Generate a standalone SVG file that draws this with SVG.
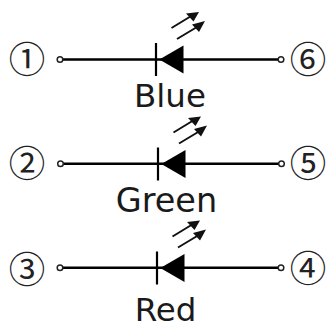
<svg xmlns="http://www.w3.org/2000/svg" width="328" height="325" viewBox="0 0 328 325">
<style>
.num{font-family:"Noto Sans CJK JP","DejaVu Sans",sans-serif;font-size:36.500px;fill:#222;text-anchor:middle}
.lbl{font-family:"DejaVu Sans",sans-serif;font-size:32.5px;fill:#1a1a1a;text-anchor:middle}
.wire{stroke:#000;stroke-width:2.4;fill:none}
.bar{stroke:#000;stroke-width:2.2;fill:none}
.ray{stroke:#111;stroke-width:2;fill:none}
.term{fill:#fff;stroke:#222;stroke-width:1.5}
</style>
<defs>
<g id="led">
<path class="bar" d="M0-16.500V16.500"/>
<path d="M3.300 0L27.500-14V14Z" fill="#000"/>
<path class="ray" d="M15.500-31.500L36-44M21-20.500L41-32.500"/>
<path d="M43-47.500L30-46L37.500-38Z M49-38.500L36-35L43-27.500Z" fill="#111"/>
</g>
</defs>
<rect width="328" height="325" fill="#fff"/>
<g id="connectors">
<path class="wire" d="M60 59.500H281M60.500 163.700H281.500M60 267.700H281"/>
</g>
<g id="led-blue"><use href="#led" x="156" y="59.500"/><circle class="term" cx="60" cy="59.500" r="2.800"/><circle class="term" cx="281" cy="59.500" r="2.800"/><text class="lbl" x="170" y="107">Blue</text></g>
<g id="led-green"><use href="#led" x="158" y="164"/><circle class="term" cx="60.500" cy="163.700" r="2.800"/><circle class="term" cx="281.500" cy="163.700" r="2.800"/><text class="lbl" x="166.500" y="212" style="font-size:33.500px">Green</text></g>
<g id="led-red"><use href="#led" x="157" y="268"/><circle class="term" cx="60" cy="267.700" r="2.800"/><circle class="term" cx="281" cy="267.700" r="2.800"/><text class="lbl" x="165.500" y="320.500">Red</text></g>
<g id="pin-1"><text class="num" x="27" y="73">①</text></g>
<g id="pin-2"><text class="num" x="27" y="177">②</text></g>
<g id="pin-3"><text class="num" x="27" y="283">③</text></g>
<g id="pin-4"><text class="num" x="308" y="282">④</text></g>
<g id="pin-5"><text class="num" x="308" y="177">⑤</text></g>
<g id="pin-6"><text class="num" x="308" y="73">⑥</text></g>
</svg>
